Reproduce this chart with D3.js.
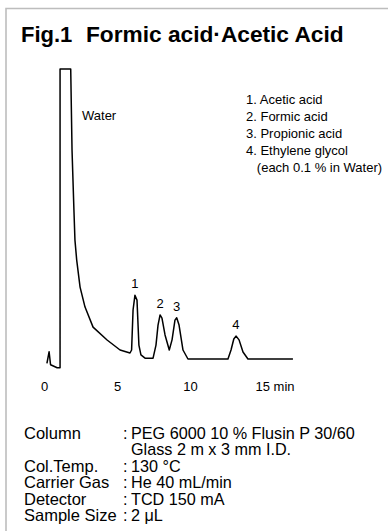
<!DOCTYPE html>
<html><head><meta charset="utf-8">
<script src="https://cdn.jsdelivr.net/npm/d3@7"></script>
<style>
html,body{margin:0;padding:0;background:#fff;}
svg{display:block;font-family:"Liberation Sans",Arial,Helvetica,sans-serif;}
</style></head>
<body>
<script>
// ---- data ----
const titleParts = ["Fig.1", "Formic acid\u00B7Acetic Acid"];
const timeMin = [0.2,0.35,0.45,0.9,1.1,1.1,1.83,1.92,2.05,2.12,2.24,2.47,2.81,3.36,4.32,5.21,5.89,6.0,6.1,6.23,6.37,6.5,6.64,6.92,7.47,7.67,7.81,7.95,8.08,8.29,8.58,8.77,8.97,9.09,9.25,9.52,9.86,12.6,12.81,13.0,13.15,13.36,13.63,13.97,17.05];
const signal  = [-1.5,2.5,-2,-3,-3,100,100,72,51.4,41,34.1,24.8,17.9,11,6.55,3.1,2.07,3.1,16.9,22,20.3,4.8,1.4,0.3,0.3,4.8,11.7,15.2,14.1,8.3,3.1,6.6,13.4,14.2,11.7,3.1,0,0,3.1,6.9,7.9,6.6,2.4,0,0];
const tickValues = [0, 5, 10, 15];
const tickLabels = ["0", "5", "10", "15 min"];
const peakNames = ["1", "2", "3", "4"];
const peakTimes = [6.23, 7.95, 9.09, 13.15];
const peakHeights = [22, 15.2, 14.2, 7.9];
const legendItems = ["1. Acetic acid", "2. Formic acid", "3. Propionic acid", "4. Ethylene glycol", "   (each 0.1 % in Water)"];
const condLabels = ["Column", "", "Col.Temp.", "Carrier Gas", "Detector", "Sample Size"];
const condValues = ["PEG 6000 10 % Flusin P 30/60", "Glass 2 m x 3 mm I.D.", "130 \u00B0C", "He 40 mL/min", "TCD 150 mA", "2 \u03BCL"];

const W = 388, H = 531;
const svg = d3.select("body").append("svg").attr("width", W).attr("height", H);

// frame
svg.append("path").attr("d", `M6,${H} L6,8.5 L${W},8.5`)
  .attr("fill", "none").attr("stroke", "#bdbdbd").attr("stroke-width", 1.6);

// title
svg.append("text").attr("x", 21).attr("y", 42).attr("font-size", 22).attr("font-weight", "bold")
  .text(titleParts[0]);
svg.append("text").attr("x", 86).attr("y", 42).attr("font-size", 22.7).attr("font-weight", "bold")
  .text(titleParts[1]);

// scales
const x = d3.scaleLinear().domain([0, 15]).range([44, 263]);
const y = d3.scaleLinear().domain([0, 100]).range([359, 69]);

// trace
const pts = timeMin.map((t, i) => [t, signal[i]]);
svg.append("path").datum(pts)
  .attr("fill", "none").attr("stroke", "#000").attr("stroke-width", 1.5)
  .attr("stroke-linejoin", "round")
  .attr("d", d3.line().x(d => x(d[0])).y(d => y(d[1])).curve(d3.curveLinear));

// x axis labels
const ax = svg.append("g").attr("transform", "translate(0,382)")
  .call(d3.axisBottom(x).tickValues(tickValues).tickSize(0).tickPadding(0)
    .tickFormat((d, i) => tickLabels[i]));
ax.select(".domain").remove();
ax.selectAll("text").attr("font-size", 13).attr("font-family", "Liberation Sans, Arial, sans-serif").attr("fill", "#000");
ax.selectAll("text").filter((d, i) => i === tickLabels.length - 1)
  .attr("text-anchor", "start").attr("dx", -8);

// Water label
svg.append("text").attr("x", 82).attr("y", 120).attr("font-size", 13).text("Water");

// peak labels
svg.selectAll("text.peak").data(peakNames).enter().append("text").attr("class", "peak")
  .attr("x", (d, i) => x(peakTimes[i]))
  .attr("y", (d, i) => y(peakHeights[i]) - 7)
  .attr("text-anchor", "middle").attr("font-size", 13).text(d => d);

// legend
svg.selectAll("text.leg").data(legendItems).enter().append("text").attr("class", "leg")
  .attr("x", 246).attr("y", (d, i) => 104 + i * 17)
  .attr("font-size", 13).style("white-space", "pre").text(d => d);

// conditions
const rowY = i => 438.5 + i * 16.5;
svg.selectAll("text.cl").data(condLabels).enter().append("text").attr("class", "cl")
  .attr("x", 24).attr("y", (d, i) => rowY(i)).attr("font-size", 16.5).text(d => d);
svg.selectAll("text.cc").data(condLabels).enter().append("text").attr("class", "cc")
  .attr("x", 123).attr("y", (d, i) => rowY(i)).attr("font-size", 16.2).text(d => d ? ":" : "");
svg.selectAll("text.cv").data(condValues).enter().append("text").attr("class", "cv")
  .attr("x", 131).attr("y", (d, i) => rowY(i)).attr("font-size", 16.2).text(d => d);
</script>
</body></html>
